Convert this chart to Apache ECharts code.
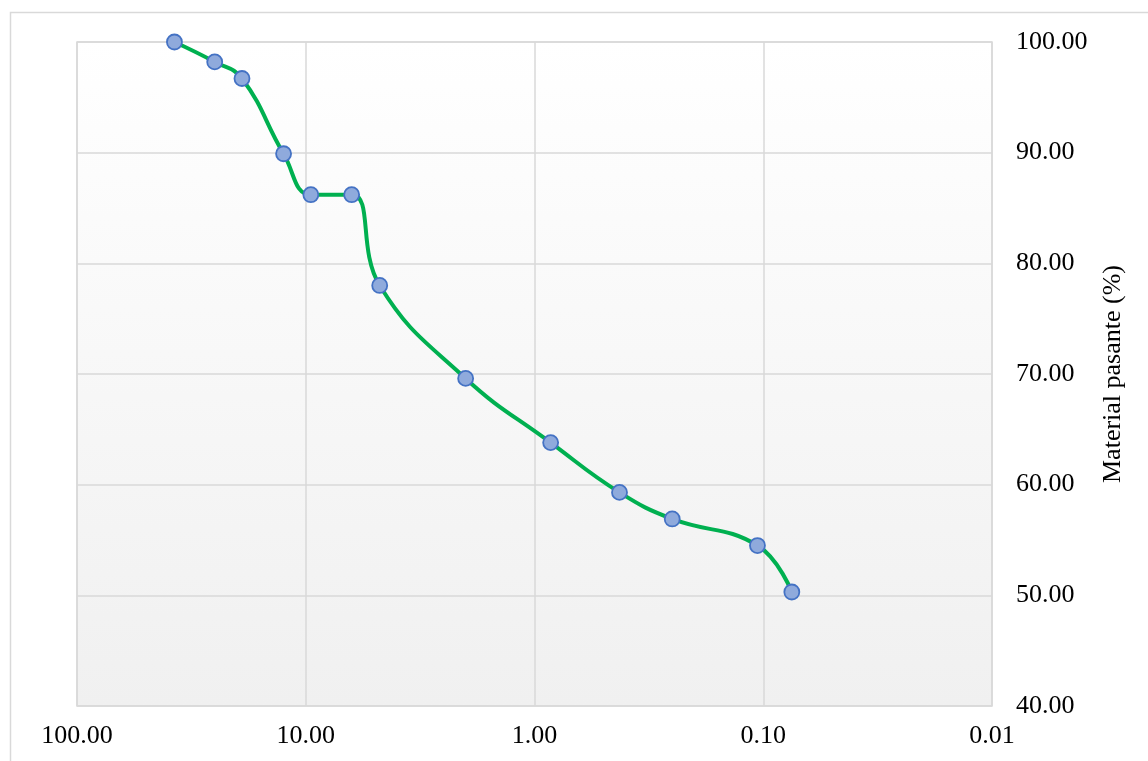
<!DOCTYPE html>
<html>
<head>
<meta charset="utf-8">
<script src="https://cdn.jsdelivr.net/npm/echarts@6/dist/echarts.min.js"></script>
<style>
  html, body { margin: 0; padding: 0; background: #fff; }
  #chart { width: 1148px; height: 761px; }
</style>
</head>
<body>
<div id="chart"></div>
<script>
// sieve opening (mm) and material passing (%)
const aberturas = [37.5, 25.0, 19.0, 12.5, 9.5, 6.3, 4.75, 2.0, 0.85, 0.425, 0.25, 0.106, 0.075]
const pasante = [100.0, 98.2, 96.7, 89.9, 86.2, 86.2, 78.0, 69.6, 63.8, 59.3, 56.9, 54.5, 50.3]
const yTicks = [40, 50, 60, 70, 80, 90, 100]

const serif = '"Liberation Serif", "Times New Roman", serif'
const gridColor = '#d9d9d9'

const chart = echarts.init(document.getElementById('chart'), null, { renderer: 'canvas' })

chart.setOption({
  animation: false,
  backgroundColor: '#ffffff',
  graphic: [{
    type: 'rect',
    shape: { x: 10.5, y: 12.5, width: 1200, height: 800 },
    style: { fill: 'none', stroke: '#d9d9d9', lineWidth: 1.5 },
    silent: true,
    z: -10
  }],
  grid: {
    left: 77,
    right: 156,
    top: 42,
    bottom: 55,
    show: true,
    borderColor: gridColor,
    borderWidth: 1.5,
    backgroundColor: new echarts.graphic.LinearGradient(0, 0, 0, 1, [
      { offset: 0, color: '#ffffff' },
      { offset: 1, color: '#f0f0f0' }
    ])
  },
  xAxis: {
    type: 'log',
    logBase: 10,
    min: 0.01,
    max: 100,
    inverse: true,
    axisLine: { show: false },
    axisTick: { show: false },
    splitLine: { show: true, lineStyle: { color: gridColor, width: 1.5 } },
    minorSplitLine: { show: false },
    axisLabel: {
      color: '#000',
      fontFamily: serif,
      fontSize: 26,
      margin: 17,
      formatter: (v) => Number(v).toFixed(2)
    }
  },
  yAxis: {
    type: 'value',
    position: 'right',
    min: yTicks[0],
    max: yTicks[yTicks.length - 1],
    interval: 10,
    name: 'Material pasante (%)',
    nameLocation: 'middle',
    nameRotate: 90,
    nameGap: 108,
    nameTextStyle: { color: '#000', fontFamily: serif, fontSize: 26 },
    axisLine: { show: false },
    axisTick: { show: false },
    splitLine: { show: true, lineStyle: { color: gridColor, width: 1.5 } },
    axisLabel: {
      color: '#000',
      fontFamily: serif,
      fontSize: 26,
      margin: 24,
      formatter: (v) => Number(v).toFixed(2)
    }
  },
  series: [{
    type: 'line',
    data: aberturas.map((a, i) => [a, pasante[i]]),
    smooth: 0.45,
    symbol: 'circle',
    symbolSize: 15,
    lineStyle: { color: '#00b050', width: 4 },
    itemStyle: { color: '#8faadc', borderColor: '#4472c4', borderWidth: 1.8 },
    z: 3
  }]
})
</script>
</body>
</html>
